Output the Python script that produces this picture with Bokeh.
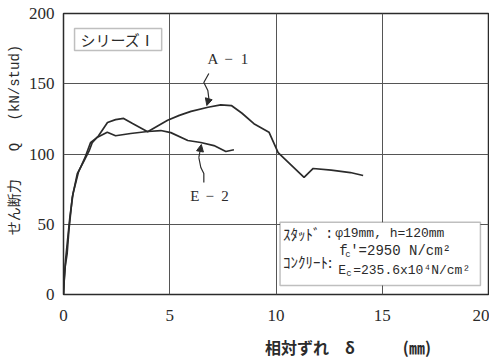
import math
from bokeh.plotting import figure
from bokeh.models import FixedTicker, Label, BoxAnnotation, Arrow, NormalHead
from bokeh.embed import file_html
from bokeh.resources import INLINE

# ---- data ----
a1_x = [0, 0.03, 0.08, 0.17, 0.25, 0.41, 0.65, 0.96, 1.2, 1.35, 1.65, 2.07, 2.45, 2.83,
        3.25, 3.96, 4.43, 4.9, 5.45, 6.0, 6.8, 7.4, 7.9, 8.4, 8.96, 9.67, 10.1, 11.32,
        11.75, 12.6, 13.5, 14.1]
a1_y = [0, 10, 20, 29, 45, 69, 86, 95, 102, 108, 113, 122.4, 124.5, 125.3,
        121.7, 115.8, 120, 124, 127.5, 130.3, 133.3, 135, 134.5, 129, 121.6, 115.5, 101, 83.3,
        89.7, 88.5, 86.8, 84.7]
e2_x = [0, 0.04, 0.1, 0.2, 0.3, 0.45, 0.7, 1.0, 1.27, 1.6, 2.06, 2.45, 3.16, 3.96,
        4.58, 5.05, 5.85, 6.46, 7.08, 7.64, 8.02]
e2_y = [0, 12, 25, 40, 55, 72, 87, 97, 108, 112, 115.5, 113, 114.6, 116,
        116.7, 115.2, 109.6, 108.2, 106, 101.8, 103]

x_ticks = [0, 5, 10, 15, 20]
y_ticks = [0, 50, 100, 150, 200]

x_title = "　" * 9 + "相対ずれ　δ　　　(㎜)"
y_title = "　　せん断力　　Q　 (kN/stud)"

INK = "#2b2b2b"
CJK = "Noto Sans CJK JP"
MONO = "Liberation Mono"
SERIF = "Liberation Serif"

p = figure(width=489, height=361, x_range=(0, 20), y_range=(0, 200),
           output_backend="svg", toolbar_location=None,
           min_border_left=63, min_border_right=1, min_border_top=13, min_border_bottom=67)
p.background_fill_color = "white"
p.border_fill_color = "white"
p.outline_line_color = INK
p.outline_line_width = 1.5

for ax in (p.xaxis, p.yaxis):
    ax.axis_line_color = None
    ax.major_tick_line_color = None
    ax.minor_tick_line_color = None
    ax.major_tick_out = 0
    ax.major_tick_in = 0
    ax.minor_tick_out = 0
    ax.minor_tick_in = 0
    ax.major_label_text_font = "Liberation Sans Narrow"
    ax.major_label_text_font_size = "17px"
    ax.major_label_text_color = INK
    ax.axis_label_text_color = INK
    ax.axis_label_text_font_style = "normal"
p.xaxis.major_label_standoff = 15
p.yaxis.major_label_standoff = 9
p.xaxis.ticker = FixedTicker(ticks=x_ticks)
p.yaxis.ticker = FixedTicker(ticks=y_ticks)
p.xaxis.axis_label = x_title
p.yaxis.axis_label = y_title
p.xaxis.axis_label_text_font = CJK
p.xaxis.axis_label_text_font_size = "16px"
p.xaxis.axis_label_text_font_style = "bold"
p.xaxis.axis_label_standoff = 11
p.yaxis.axis_label_text_font = "Liberation Mono, Noto Sans CJK JP"
p.yaxis.axis_label_text_font_size = "14px"
p.yaxis.axis_label_standoff = 3

p.xgrid.ticker = FixedTicker(ticks=x_ticks)
p.ygrid.ticker = FixedTicker(ticks=y_ticks)
for g in (p.xgrid, p.ygrid):
    g.grid_line_color = "#555555"
    g.grid_line_width = 1

p.line(a1_x, a1_y, line_color=INK, line_width=1.7)
p.line(e2_x, e2_y, line_color=INK, line_width=1.7)

# series box
p.add_layout(BoxAnnotation(left=0.52, right=4.62, bottom=173.7, top=189.3,
                           fill_color="white", fill_alpha=1, line_color=INK, line_width=1.5))
p.add_layout(Label(x=0.8, y=181.5, text="シリーズⅠ", text_font=CJK, text_font_size="15px",
                   text_color=INK, text_baseline="middle"))

# info box
p.add_layout(BoxAnnotation(left=10.19, right=19.62, bottom=6.4, top=51.4,
                           fill_color="white", fill_alpha=1, line_color=INK, line_width=1.5))

def lab(x, y, t, font, size, align="left", baseline="middle", style="normal", angle=0):
    p.add_layout(Label(x=x, y=y, text=t, text_font=font, text_font_size=size,
                       text_color=INK, text_align=align, text_baseline=baseline,
                       text_font_style=style, angle=angle))

def dx(px):
    return (px - 63) / 21.2

def dy(py):
    return (294 - py) / 1.405

lab(dx(282), dy(233), "ｽﾀｯﾄﾞ", CJK, "15px")
lab(dx(324), dy(233), ":", MONO, "14px")
lab(dx(334), dy(233), "φ19mm, h=120mm", MONO, "13px")
lab(dx(282), dy(261), "ｺﾝｸﾘｰﾄ:", CJK, "15px")
lab(dx(338), dy(250), "f", MONO, "14px")
lab(dx(344), dy(254), "c", MONO, "9px")
lab(dx(349), dy(250), "'=2950 N/cm²", MONO, "14px")
lab(dx(337), dy(270), "E", MONO, "13px")
lab(dx(345), dy(273), "c", MONO, "9px")
lab(dx(352), dy(270), "=235.6x10⁴N/cm²", MONO, "13px")

# curve labels
for t, px in (("A", 212), ("−", 227.5), ("1", 243.5)):
    lab(dx(px), dy(58), t, SERIF, "15px", align="center")
for t, px in (("E", 194), ("−", 209), ("2", 224)):
    lab(dx(px), dy(195), t, SERIF, "15px", align="center")

# leaders
la_x = [dx(208), dx(203), dx(207), dx(208)]
la_y = [dy(73), dy(82), dy(90), dy(98)]
p.line(la_x, la_y, line_color=INK, line_width=1.2)
p.add_layout(Arrow(x_start=dx(208), y_start=dy(98), x_end=dx(206), y_end=dy(105),
                   line_color=INK, line_width=1.2,
                   end=NormalHead(size=7, fill_color=INK, line_color=INK)))
le_x = [dx(203), dx(203), dx(200), dx(198)]
le_y = [dy(182), dy(173), dy(167), dy(157)]
p.line(le_x, le_y, line_color=INK, line_width=1.2)
p.add_layout(Arrow(x_start=dx(198), y_start=dy(157), x_end=dx(200.5), y_end=dy(144),
                   line_color=INK, line_width=1.2,
                   end=NormalHead(size=7, fill_color=INK, line_color=INK)))

open("out.html", "w").write(file_html(p, INLINE))
